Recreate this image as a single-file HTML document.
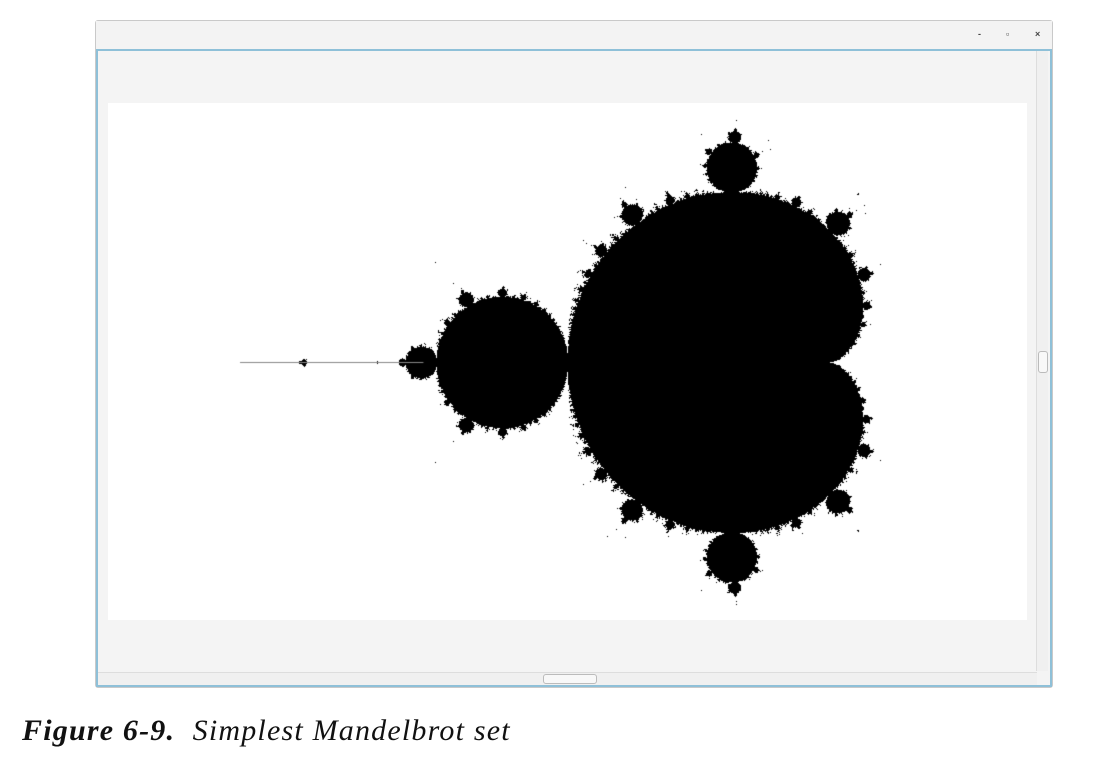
<!DOCTYPE html>
<html><head><meta charset="utf-8">
<style>
body{margin:0;width:1103px;height:780px;background:#fff;position:relative;overflow:hidden;font-family:"Liberation Serif",serif}
.win{position:absolute;left:95px;top:20px;width:958px;height:668px;border:1px solid #c9c9c9;border-radius:3px;background:#f2f2f2;box-sizing:border-box}
.title{position:absolute;left:0;top:0;right:0;height:28px;background:#f3f3f3}
.content{position:absolute;left:0;top:28px;right:0;bottom:0;border:2px solid #8ec0d8;background:#f4f4f4}
.btn{position:absolute;top:8px;font:bold 9px "Liberation Sans",sans-serif;color:#444}
.vs{position:absolute;right:2px;top:0;width:11px;bottom:14px;background:#f0f0f0;border-left:1px solid #ddd}
.hs{position:absolute;left:0;bottom:0;right:13px;height:12px;background:#f0f0f0;border-top:1px solid #ddd}
.thumbv{position:absolute;left:1px;top:300px;width:8px;height:20px;border:1px solid #bbb;border-radius:3px;background:#f8f8f8}
.thumbh{position:absolute;top:1px;left:445px;width:52px;height:8px;border:1px solid #bbb;border-radius:3px;background:#f8f8f8}
canvas{position:absolute;left:108px;top:103px}
.cap{position:absolute;left:22px;top:714px;font-size:30px;letter-spacing:1.2px;font-style:italic;color:#111;white-space:nowrap}
</style></head><body>
<div class="win">
 <div class="title">
  <span class="btn" style="left:882px">-</span>
  <span class="btn" style="left:910px">▫</span>
  <span class="btn" style="left:939px">×</span>
 </div>
 <div class="content">
  <div class="vs"><div class="thumbv"></div></div>
  <div class="hs"><div class="thumbh"></div></div>
 </div>
</div>
<canvas id="c" width="919" height="517"></canvas>
<div class="cap"><b>Figure 6-9.</b>&nbsp; Simplest Mandelbrot set</div>
<script>
const reRange = [-2.504, 1.004];
const imRange = [0.989, -0.985];
const maxIter = [120];
const antenna = [-2.0, -1.3];
const cv=document.getElementById('c'),ctx=cv.getContext('2d');
const W=cv.width,H=cv.height,img=ctx.createImageData(W,H);
function xRe(px){return reRange[0]+(reRange[1]-reRange[0])*px/W;}
function yIm(py){return imRange[0]+(imRange[1]-imRange[0])*py/H;}
function pxRe(r){return (r-reRange[0])/(reRange[1]-reRange[0])*W;}
function pyIm(i){return (i-imRange[0])/(imRange[1]-imRange[0])*H;}
for(let y=0;y<H;y++){const ci=yIm(y);for(let x=0;x<W;x++){const cr=xRe(x);
 let zr=0,zi=0,i=0;for(;i<maxIter[0];i++){const t=zr*zr-zi*zi+cr;zi=2*zr*zi+ci;zr=t;if(zr*zr+zi*zi>4)break;}
 const v=i>=maxIter[0]?0:255;const k=(y*W+x)*4;img.data[k]=img.data[k+1]=img.data[k+2]=v;img.data[k+3]=255;}}
ctx.putImageData(img,0,0);
ctx.strokeStyle='#888';ctx.lineWidth=1.2;ctx.beginPath();
const ay=Math.round(pyIm(0))+0.5;
ctx.moveTo(pxRe(antenna[0]),ay);ctx.lineTo(pxRe(antenna[1]),ay);ctx.stroke();
</script>
</body></html>
